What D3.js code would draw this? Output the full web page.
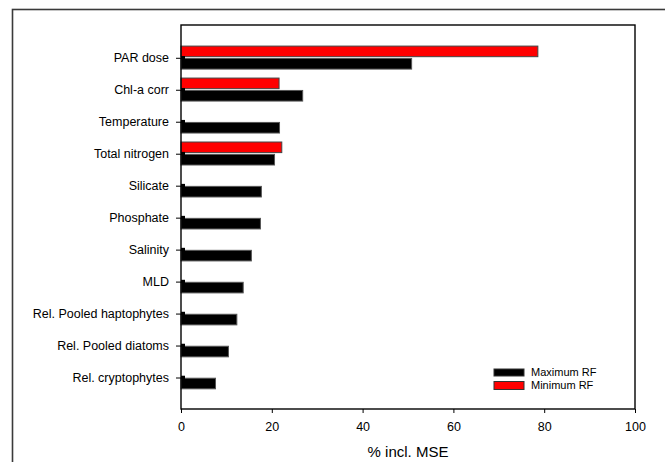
<!DOCTYPE html>
<html><head><meta charset="utf-8">
<script src="https://cdn.jsdelivr.net/npm/d3@7"></script>
<style>body{margin:0;background:#fff}svg{display:block}text{font-family:"Liberation Sans",Arial,sans-serif;fill:#000}</style>
</head><body>
<svg id="c" width="665" height="462"></svg>
<script>
const categories = ["PAR dose","Chl-a corr","Temperature","Total nitrogen","Silicate","Phosphate","Salinity","MLD","Rel. Pooled haptophytes","Rel. Pooled diatoms","Rel. cryptophytes"];
const maximumRF = [50.8, 26.8, 21.7, 20.6, 17.7, 17.5, 15.5, 13.7, 12.3, 10.45, 7.6];
const minimumRF = [78.6, 21.6, 0, 22.2, 0, 0, 0, 0, 0, 0, 0];
const xTicks = [0, 20, 40, 60, 80, 100];
const seriesNames = ["Maximum RF", "Minimum RF"];
const seriesColors = ["#000000", "#ff0000"];

const svg = d3.select("#c");
const L = 181, R = 635, T = 25, B = 409;

// outer frame
svg.append("rect").attr("x",12.5).attr("y",9.5).attr("width",720).attr("height",520)
  .attr("fill","none").attr("stroke","#3a3a3a").attr("stroke-width",1.6);

const x = d3.scaleLinear().domain([0,100]).range([L,R]);
const y = d3.scaleBand().domain(categories).range([42.3, 394]).padding(0);

// bars
const g = svg.append("g");
categories.forEach((c,i)=>{
  const cy = y(c) + y.bandwidth()/2;
  if (minimumRF[i] > 0) {
    g.append("rect").attr("x", x(0)).attr("y", cy-12.2)
      .attr("width", x(minimumRF[i])-x(0)).attr("height", 10.6)
      .attr("fill", seriesColors[1]).attr("stroke","#444").attr("stroke-width",1);
  }
  g.append("rect").attr("x", x(0)).attr("y", cy+0.2)
    .attr("width", x(maximumRF[i])-x(0)).attr("height", 10.6)
    .attr("fill", seriesColors[0]).attr("stroke","#555").attr("stroke-width",1);
});

// plot frame
svg.append("rect").attr("x",L).attr("y",T).attr("width",R-L).attr("height",B-T)
  .attr("fill","none").attr("stroke","#000").attr("stroke-width",1.4);

// y axis
const ya = svg.append("g").attr("transform",`translate(${L},0)`)
  .call(d3.axisLeft(y).tickSize(5).tickPadding(7));
ya.select(".domain").remove();
ya.selectAll(".tick line").attr("stroke","#000");
ya.selectAll(".tick text").style("font-size","12.5px").attr("dy","0.32em");
ya.selectAll(".tick").append("rect").attr("x",0).attr("y",-2.3).attr("width",4).attr("height",3.3).attr("fill","#000");

// x axis
const xa = svg.append("g").attr("transform",`translate(0,${B})`)
  .call(d3.axisBottom(x).tickValues(xTicks).tickSize(4).tickPadding(9).tickFormat(d3.format("d")));
xa.select(".domain").remove();
xa.selectAll(".tick line").attr("stroke","#000");
xa.selectAll(".tick text").style("font-size","12.5px");

svg.append("text").attr("x",(L+R)/2).attr("y",452).attr("text-anchor","middle")
  .attr("dy","0.35em").style("font-size","15px").text("% incl. MSE");

// legend
const leg = svg.append("g");
const legY = [372.5, 385.5];
const legH = [7, 8];
seriesNames.forEach((n,i)=>{
  leg.append("rect").attr("x",494).attr("y",legY[i]-legH[i]/2).attr("width",30).attr("height",legH[i])
    .attr("fill",seriesColors[i]).attr("stroke","#333").attr("stroke-width",1);
  leg.append("text").attr("x",531).attr("y",legY[i]).attr("dy","0.35em")
    .style("font-size","11px").text(n);
});
</script>
</body></html>
